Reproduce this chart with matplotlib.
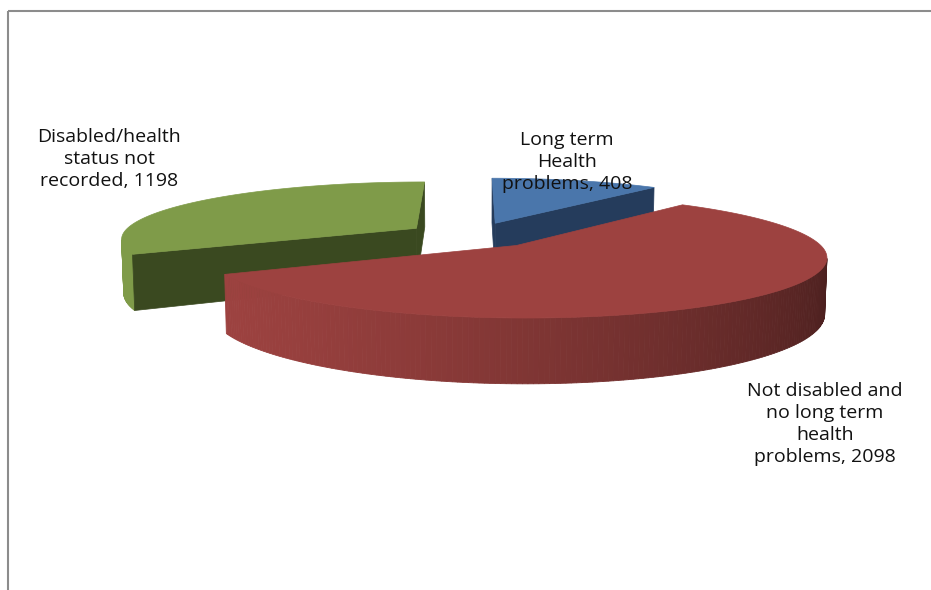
import numpy as np
import matplotlib
matplotlib.use("Agg")
import matplotlib.pyplot as plt
from matplotlib.patches import Polygon
from matplotlib.colors import to_rgb

# data
labels = ["Long term\nHealth\nproblems",
          "Not disabled and\nno long term\nhealth\nproblems",
          "Disabled/health\nstatus not\nrecorded"]
values = [408, 2098, 1198]

# styles
top_colors = ["#4a76ab", "#9d4240", "#7f9b49"]
cut_colors = ["#253c5c", "#5a2524", "#3a4920"]
label_xy = [(567, 162), (825, 424), (109, 159)]

# 3d pie camera (pixel layout)
CX, CY = 473, 235
FOCAL = 1711.0
DIST = 5.8
TILT = np.radians(11)
EXPLODE = 0.23
HEIGHT = 0.185
cam = np.array([0.0, -DIST * np.cos(TILT), DIST * np.sin(TILT)])


def project(X, Y, Z):
    d = DIST + Y * np.cos(TILT) - Z * np.sin(TILT)
    u = Y * np.sin(TILT) + Z * np.cos(TILT)
    return CX + FOCAL * X / d, CY - FOCAL * u / d


def shade(color, k):
    r, g, b = to_rgb(color)
    return (r * k, g * k, b * k)


fig = plt.figure(figsize=(9.31, 5.90), dpi=100)
ax = fig.add_axes([0, 0, 1, 1])
ax.set_xlim(0, 931)
ax.set_ylim(590, 0)
ax.axis("off")

vals = np.array(values, dtype=float)
cum = np.concatenate([[0], np.cumsum(vals / vals.sum())]) * 360
slices = []
for i in range(len(vals)):
    hi = np.radians(90 - cum[i])
    lo = np.radians(90 - cum[i + 1])
    mid = (hi + lo) / 2
    ox, oy = EXPLODE * np.cos(mid), EXPLODE * np.sin(mid)
    slices.append((i, lo, hi, ox, oy))

# paint back to front
for i, lo, hi, ox, oy in sorted(slices, key=lambda s: -s[4]):
    col = top_colors[i]

    # outer wall, shaded segment by segment
    th = np.linspace(lo, hi, 240)
    for t0, t1 in zip(th[:-1], th[1:]):
        tm = (t0 + t1) / 2
        P = np.array([ox + np.cos(tm), oy + np.sin(tm), 0])
        n = np.array([np.cos(tm), np.sin(tm), 0])
        if np.dot(cam - P, n) <= 0:
            continue
        ts = np.array([t0, t1, t1, t0])
        zs = np.array([0, 0, -HEIGHT, -HEIGHT])
        px, py = project(ox + np.cos(ts), oy + np.sin(ts), zs)
        k = 0.72 + 0.28 * np.cos(tm - np.radians(200))
        c = shade(col, k)
        ax.add_patch(Polygon(np.column_stack([px, py]), closed=True,
                             facecolor=c, edgecolor=c, lw=0.6))

    # cut faces
    for ang, nang in [(lo, lo - np.pi / 2), (hi, hi + np.pi / 2)]:
        n = np.array([np.cos(nang), np.sin(nang), 0])
        P = np.array([ox, oy, 0])
        if np.dot(cam - P, n) <= 0:
            continue
        xs = np.array([ox, ox + np.cos(ang), ox + np.cos(ang), ox])
        ys = np.array([oy, oy + np.sin(ang), oy + np.sin(ang), oy])
        zs = np.array([0, 0, -HEIGHT, -HEIGHT])
        px, py = project(xs, ys, zs)
        ax.add_patch(Polygon(np.column_stack([px, py]), closed=True,
                             facecolor=cut_colors[i], edgecolor=cut_colors[i],
                             lw=0.5))

    # top face
    th = np.linspace(lo, hi, 200)
    xs = np.concatenate([[ox], ox + np.cos(th)])
    ys = np.concatenate([[oy], oy + np.sin(th)])
    px, py = project(xs, ys, np.zeros_like(xs))
    ax.add_patch(Polygon(np.column_stack([px, py]), closed=True,
                         facecolor=col, edgecolor=col, lw=0.5))

# data labels
for lab, v, (tx, ty) in zip(labels, values, label_xy):
    ax.text(tx, ty, f"{lab}, {v}", ha="center", va="center",
            fontsize=14, family="Open Sans", color="#111111",
            linespacing=1.3, zorder=5)

# chart frame (top and left edges)
ax.plot([7.5, 931], [10.5, 10.5], color="#8c8c8c", lw=1.5,
        solid_capstyle="butt")
ax.plot([7.5, 7.5], [10.5, 590], color="#8c8c8c", lw=1.5,
        solid_capstyle="butt")

fig.savefig("out.png", dpi=100)
